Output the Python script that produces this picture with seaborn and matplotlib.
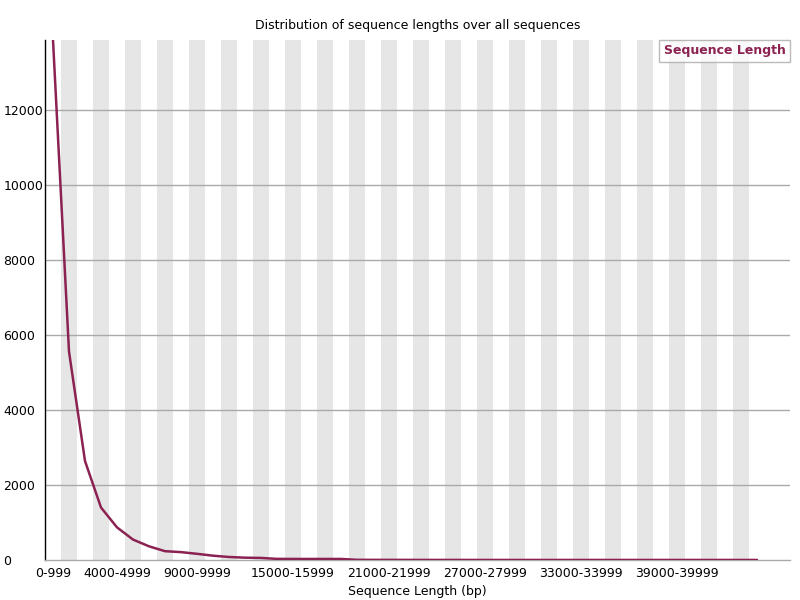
import numpy as np
import pandas as pd
import matplotlib
matplotlib.use("Agg")
import matplotlib.pyplot as plt
import seaborn as sns

# --------------------------------------------
# DATA
# --------------------------------------------
bin_starts = list(range(0, 45000, 1000))
bin_labels = [f"{s}-{s + 999}" for s in bin_starts]
counts = [13870, 5560, 2640, 1400, 870, 545, 365, 235, 210, 165,
          115, 80, 62, 55, 30, 28, 28, 28, 28, 5,
          4, 3, 3, 2, 2, 2, 2, 1, 1, 1,
          1, 1, 1, 1, 1, 1, 1, 1, 1, 1,
          1, 1, 1, 1, 1]
shown_ticks = [0, 4, 9, 15, 21, 27, 33, 39]

df = pd.DataFrame({"pos": range(len(bin_labels)), "label": bin_labels, "count": counts})

line_color = "#8b2252"

sns.set_style("white")
plt.rcParams["font.family"] = ["DejaVu Sans"]
plt.rcParams["text.color"] = "black"
plt.rcParams["xtick.color"] = "black"
plt.rcParams["ytick.color"] = "black"
plt.rcParams["axes.labelcolor"] = "black"

fig = plt.figure(figsize=(8, 6), dpi=100)
ax = fig.add_axes([45 / 800, 40 / 600, 745 / 800, 520 / 600])

# alternating grey stripes behind the categories
for i in range(1, len(bin_labels), 2):
    ax.axvspan(i - 0.5, i + 0.5, color="#e6e6e6", lw=0, zorder=0)

for yv in range(2000, 14000, 2000):
    ax.axhline(yv, color="#aaaaaa", lw=1, zorder=1)

sns.lineplot(data=df, x="pos", y="count", color=line_color, lw=1.8,
             ax=ax, zorder=3, label="Sequence Length")

ax.set_xlim(-0.5, 46.06)
ax.set_ylim(0, max(counts))
ax.set_yticks(range(0, 14000, 2000))
ax.set_xticks(shown_ticks)
ax.set_xticklabels([bin_labels[i] for i in shown_ticks])
ax.tick_params(axis="x", length=0, labelsize=9, pad=5)
# y labels sit left-aligned at the figure's left edge
ax.tick_params(axis="y", length=0, labelsize=9, pad=30)
for lab in ax.get_yticklabels():
    lab.set_horizontalalignment("left")

for side in ["top", "right"]:
    ax.spines[side].set_visible(False)
ax.spines["left"].set_color("black")
ax.spines["left"].set_linewidth(1)
ax.spines["bottom"].set_color("#aaaaaa")
ax.spines["bottom"].set_linewidth(1)

ax.set_xlabel("Sequence Length (bp)", fontsize=9, labelpad=4)
ax.set_ylabel("")
ax.set_title("Distribution of sequence lengths over all sequences", fontsize=9, pad=8)

leg = ax.legend(loc="upper right", handlelength=0, handletextpad=0, frameon=True,
                fancybox=False, borderpad=0.35, borderaxespad=0.0,
                prop={"weight": "bold", "size": 9})
leg.get_frame().set_edgecolor("#aaaaaa")
leg.get_frame().set_linewidth(1)
for h in leg.legend_handles:
    h.set_visible(False)
for t in leg.get_texts():
    t.set_color(line_color)

fig.savefig("out.png", dpi=100)
